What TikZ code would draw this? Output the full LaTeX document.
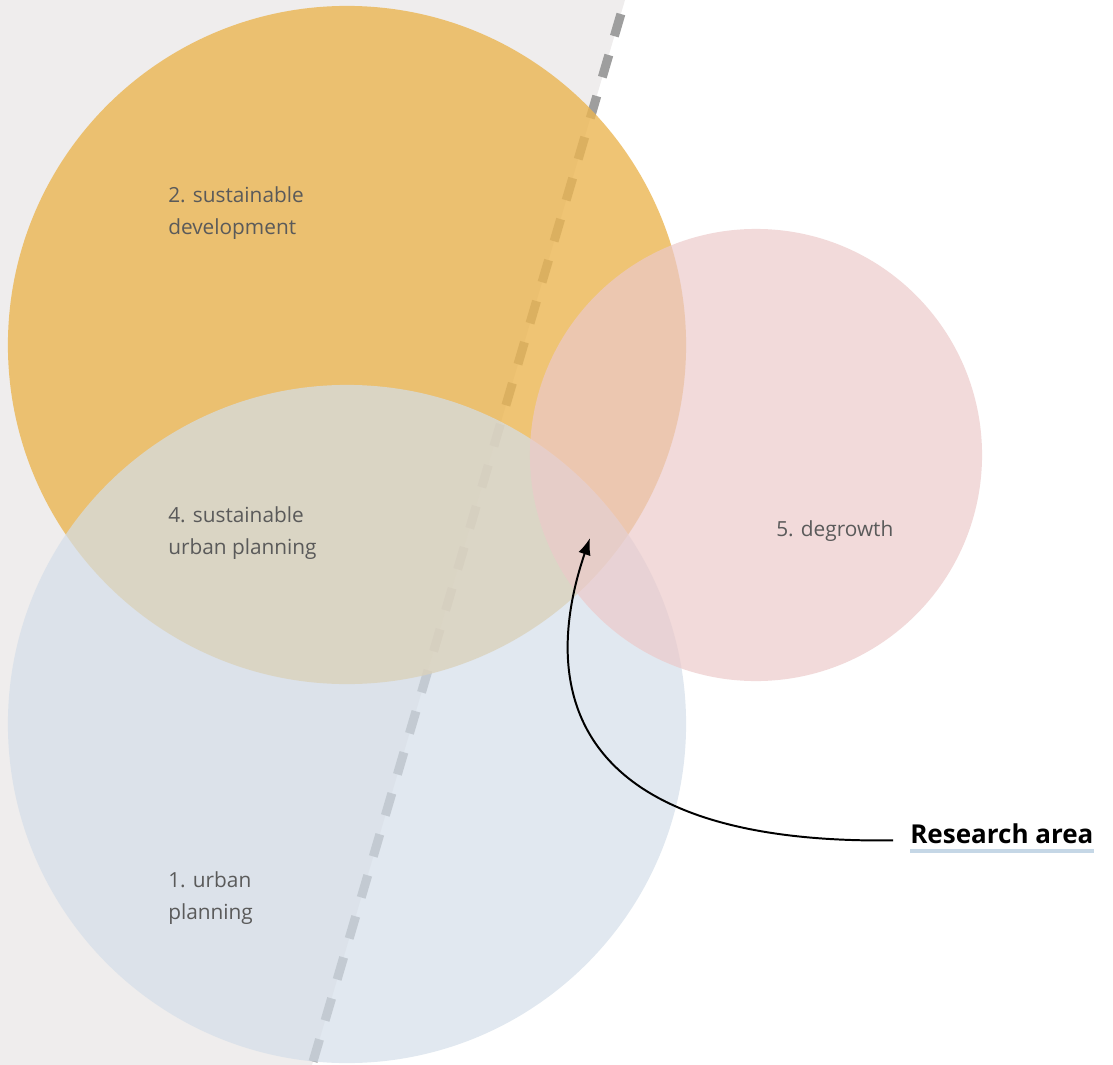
\documentclass[tikz,border=0pt]{standalone}
\usepackage{fontspec}
\setmainfont{Open Sans}
\usetikzlibrary{arrows.meta}

\definecolor{bggray}{HTML}{EFEDED}
\definecolor{dashgray}{HTML}{9E9E9E}
\definecolor{sdorange}{HTML}{EBB551}
\definecolor{upblue}{HTML}{D4DEE9}
\definecolor{dgpink}{HTML}{ECCACA}
\definecolor{labelgray}{HTML}{5A5A5A}
\definecolor{markblue}{HTML}{C5D7E6}

\begin{document}
\begin{tikzpicture}[x=0.025cm,y=-0.025cm,
    topic/.style={text=labelgray, align=left, anchor=west, inner sep=0pt,
      font=\fontsize{14.8}{22.8}\selectfont},
    pointer/.style={line width=1.4pt, -{Latex[length=12pt,width=9pt]}}]
    \useasboundingbox (0,0) rectangle (1113,1065);

    \coordinate (top) at (625,0);
    \coordinate (bottom) at (312,1065);
    \coordinate (susdev) at (347,345);
    \coordinate (urbplan) at (347,724);
    \coordinate (degrowth) at (756,455);
    \coordinate (target) at (590,538);

    % draw background and divider
    \fill[bggray] (0,0) -- (top) -- (bottom) -- (0,1065) -- cycle;
    \draw[dashgray, line width=6.4pt, dash pattern=on 16.4pt off 14pt, dash phase=20pt] (top) -- (bottom);

    % draw circles
    \fill[sdorange, opacity=0.8] (susdev) circle[radius=8.475cm];
    \fill[upblue, opacity=0.7] (urbplan) circle[radius=8.475cm];
    \fill[dgpink, opacity=0.7] (degrowth) circle[radius=5.65cm];

    % labels
    \node[topic] (sdlabel) at (168,213) {2. sustainable\\development};
    \node[topic] (sulabel) at (168,533) {4. sustainable\\urban planning};
    \node[topic] (uplabel) at (168,898) {1. urban\\planning};
    \node[topic] (dglabel) at (776,531) {5. degrowth};

    \node[anchor=base west, inner sep=0pt, font=\fontsize{18.5}{22}\selectfont\bfseries] (research) at (910,843) {Research area};
    \draw[markblue, line width=2.8pt] ([yshift=-5pt]research.south west) -- ([yshift=-5pt]research.south east);

    \draw[pointer, shorten <=12pt] ([yshift=2pt]research.base west) .. controls (520,845) and (555,640) .. (target);
\end{tikzpicture}
\end{document}
